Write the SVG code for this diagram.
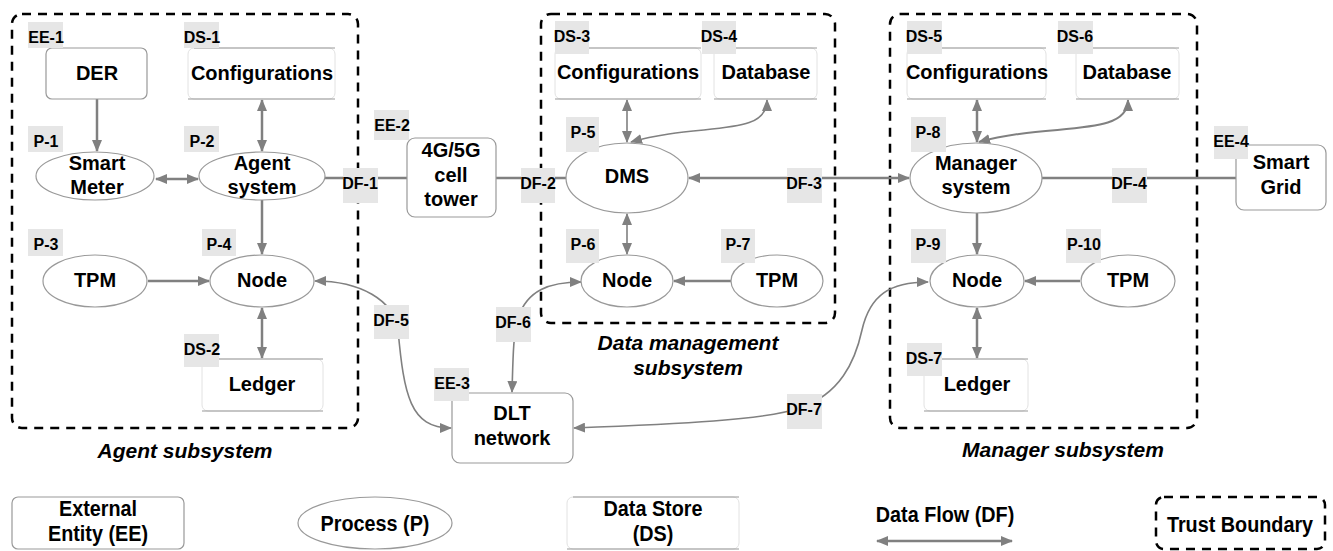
<svg xmlns="http://www.w3.org/2000/svg" width="1333" height="551" viewBox="0 0 1333 551">
  <style>
    .bnd { fill: none; stroke: #000; stroke-width: 2.5; stroke-dasharray: 9 7; }
    .ee { fill: #fff; stroke: #999; stroke-width: 1.2; }
    .pr { fill: #fff; stroke: #999; stroke-width: 1.2; }
    .dsb { fill: #fff; stroke: #e2e2e2; stroke-width: 1; }
    .dsl { stroke: #9a9a9a; stroke-width: 1.2; }
    .tag { fill: #e6e6e6; }
    .fl { fill: none; stroke: #808080; stroke-width: 2.5; }
    .thin { stroke-width: 1.6; }
    text { font-family: "Liberation Sans", Arial, sans-serif; font-weight: bold; fill: #000; text-anchor: middle; }
    .lbl { font-size: 20px; }
    .tt { font-size: 16px; }
    .sub { font-size: 21px; font-style: italic; }
    .leg { font-size: 22px; }
  </style>
  <defs>
    <marker id="ah" viewBox="0 0 12 10" refX="11" refY="5" markerWidth="12" markerHeight="10" markerUnits="userSpaceOnUse" orient="auto-start-reverse">
      <path d="M0,0 L12,5 L0,10 z" fill="#808080"/>
    </marker>
  </defs>

  <!-- trust boundaries -->
  <g id="boundaries">
    <rect class="bnd" x="12" y="14" width="346" height="414" rx="10"/>
    <rect class="bnd" x="541" y="14" width="294" height="309" rx="10"/>
    <rect class="bnd" x="890" y="14" width="307" height="414" rx="10"/>
    <text class="sub" x="185" y="458">Agent subsystem</text>
    <text class="sub" x="688" y="350">Data management</text>
    <text class="sub" x="688" y="375">subsystem</text>
    <text class="sub" x="1063" y="457">Manager subsystem</text>
  </g>

  <!-- data flows -->
  <g id="connectors">
    <path class="fl" d="M97,99 L97,151" marker-end="url(#ah)"/>
    <path class="fl" d="M262,100 L262,151" marker-start="url(#ah)" marker-end="url(#ah)"/>
    <path class="fl" d="M156,179 L198,179" marker-start="url(#ah)" marker-end="url(#ah)"/>
    <path class="fl" d="M262,200 L262,254" marker-end="url(#ah)"/>
    <path class="fl" d="M148,281 L209,281" marker-end="url(#ah)"/>
    <path class="fl" d="M262,308 L262,358" marker-start="url(#ah)" marker-end="url(#ah)"/>
    <path class="fl" d="M325,178 L407,178"/>
    <path class="fl" d="M496,178 L567,178"/>
    <path class="fl" d="M689,178 L909,178" marker-start="url(#ah)" marker-end="url(#ah)"/>
    <path class="fl thin" d="M627,100 L627,142" marker-start="url(#ah)" marker-end="url(#ah)"/>
    <path class="fl thin" d="M767,100 C767,138 700,122 631,142" marker-start="url(#ah)" marker-end="url(#ah)"/>
    <path class="fl thin" d="M627,214 L627,254" marker-start="url(#ah)" marker-end="url(#ah)"/>
    <path class="fl" d="M731,281 L674,281" marker-end="url(#ah)"/>
    <path class="fl" d="M977,100 L977,142" marker-start="url(#ah)" marker-end="url(#ah)"/>
    <path class="fl" d="M1128,100 C1128,138 1050,122 979,142" style="stroke-width:2" marker-start="url(#ah)" marker-end="url(#ah)"/>
    <path class="fl" d="M1042,178 L1236,178"/>
    <path class="fl" d="M977,213 L977,254" marker-end="url(#ah)"/>
    <path class="fl" d="M1080,281 L1025,281" marker-end="url(#ah)"/>
    <path class="fl" d="M977,308 L977,358" marker-start="url(#ah)" marker-end="url(#ah)"/>
    <path class="fl thin" d="M315,281 C360,281 394,300 398,330 C404,395 410,428 451,428" marker-start="url(#ah)" marker-end="url(#ah)"/>
    <path class="fl thin" d="M512,392 C513,360 513,335 518,318 C527,290 550,282 581,282" marker-start="url(#ah)" marker-end="url(#ah)"/>
    <path class="fl thin" d="M574,428 C680,424 765,420 800,408 C840,394 855,362 862,330 C870,295 890,282 928,282" marker-start="url(#ah)" marker-end="url(#ah)"/>
  </g>

  <!-- agent subsystem -->
  <g id="ee1">
    <rect class="ee" x="46" y="48" width="101" height="51" rx="6"/>
    <text class="lbl" x="97" y="80">DER</text>
    <rect class="tag" x="28" y="22" width="35" height="26"/>
    <text class="tt" x="46" y="43">EE-1</text>
  </g>
  <g id="ds1">
    <rect class="dsb" x="188" y="48" width="147" height="51" rx="6"/>
    <line class="dsl" x1="194" y1="48" x2="335" y2="48"/>
    <line class="dsl" x1="188" y1="99" x2="335" y2="99"/>
    <text class="lbl" x="262" y="80">Configurations</text>
    <rect class="tag" x="184" y="22" width="35" height="26"/>
    <text class="tt" x="202" y="43">DS-1</text>
  </g>
  <g id="p1">
    <ellipse class="pr" cx="95" cy="176" rx="59" ry="24"/>
    <text class="lbl" x="97" y="170">Smart</text>
    <text class="lbl" x="97" y="194">Meter</text>
    <rect class="tag" x="28" y="126" width="35" height="26"/>
    <text class="tt" x="46" y="147">P-1</text>
  </g>
  <g id="p2">
    <ellipse class="pr" cx="262" cy="176" rx="63" ry="24"/>
    <text class="lbl" x="262" y="170">Agent</text>
    <text class="lbl" x="262" y="194">system</text>
    <rect class="tag" x="184" y="126" width="35" height="26"/>
    <text class="tt" x="202" y="147">P-2</text>
  </g>
  <g id="p3">
    <ellipse class="pr" cx="95" cy="281" rx="52" ry="26"/>
    <text class="lbl" x="95" y="287">TPM</text>
    <rect class="tag" x="28" y="229" width="35" height="27"/>
    <text class="tt" x="46" y="250">P-3</text>
  </g>
  <g id="p4">
    <ellipse class="pr" cx="262" cy="281" rx="52" ry="26"/>
    <text class="lbl" x="262" y="287">Node</text>
    <rect class="tag" x="202" y="229" width="34" height="27"/>
    <text class="tt" x="219" y="250">P-4</text>
  </g>
  <g id="ds2">
    <rect class="dsb" x="202" y="359" width="121" height="52" rx="6"/>
    <line class="dsl" x1="208" y1="359" x2="323" y2="359"/>
    <line class="dsl" x1="202" y1="411" x2="323" y2="411"/>
    <text class="lbl" x="262" y="391">Ledger</text>
    <rect class="tag" x="184" y="334" width="35" height="33"/>
    <text class="tt" x="202" y="355">DS-2</text>
  </g>

  <!-- external entities between boundaries -->
  <g id="ee2">
    <rect class="ee" x="407" y="138" width="89" height="79" rx="8"/>
    <text class="lbl" x="451" y="157">4G/5G</text>
    <text class="lbl" x="451" y="182">cell</text>
    <text class="lbl" x="451" y="206">tower</text>
    <rect class="tag" x="374" y="110" width="35" height="30"/>
    <text class="tt" x="392" y="131">EE-2</text>
  </g>
  <g id="ee3">
    <rect class="ee" x="452" y="393" width="121" height="70" rx="8"/>
    <text class="lbl" x="512" y="420">DLT</text>
    <text class="lbl" x="512" y="445">network</text>
    <rect class="tag" x="434" y="368" width="35" height="33"/>
    <text class="tt" x="452" y="389">EE-3</text>
  </g>
  <g id="ee4">
    <rect class="ee" x="1236" y="145" width="90" height="65" rx="8"/>
    <text class="lbl" x="1281" y="169">Smart</text>
    <text class="lbl" x="1281" y="194">Grid</text>
    <rect class="tag" x="1214" y="126" width="34" height="33"/>
    <text class="tt" x="1231" y="147">EE-4</text>
  </g>

  <!-- data management subsystem -->
  <g id="ds3">
    <rect class="dsb" x="555" y="48" width="146" height="51" rx="6"/>
    <line class="dsl" x1="561" y1="48" x2="701" y2="48"/>
    <line class="dsl" x1="555" y1="99" x2="701" y2="99"/>
    <text class="lbl" x="628" y="79">Configurations</text>
    <rect class="tag" x="555" y="21" width="34" height="33"/>
    <text class="tt" x="572" y="42">DS-3</text>
  </g>
  <g id="ds4">
    <rect class="dsb" x="714" y="48" width="103" height="51" rx="6"/>
    <line class="dsl" x1="720" y1="48" x2="817" y2="48"/>
    <line class="dsl" x1="714" y1="99" x2="817" y2="99"/>
    <text class="lbl" x="766" y="79">Database</text>
    <rect class="tag" x="702" y="21" width="34" height="33"/>
    <text class="tt" x="719" y="42">DS-4</text>
  </g>
  <g id="p5">
    <ellipse class="pr" cx="627" cy="178" rx="61" ry="35"/>
    <text class="lbl" x="627" y="183">DMS</text>
    <rect class="tag" x="566" y="117" width="33" height="35"/>
    <text class="tt" x="583" y="138">P-5</text>
  </g>
  <g id="p6">
    <ellipse class="pr" cx="627" cy="281" rx="46" ry="26"/>
    <text class="lbl" x="627" y="287">Node</text>
    <rect class="tag" x="566" y="229" width="33" height="34"/>
    <text class="tt" x="583" y="250">P-6</text>
  </g>
  <g id="p7">
    <ellipse class="pr" cx="777" cy="281" rx="46" ry="26"/>
    <text class="lbl" x="777" y="287">TPM</text>
    <rect class="tag" x="721" y="229" width="34" height="34"/>
    <text class="tt" x="738" y="250">P-7</text>
  </g>

  <!-- manager subsystem -->
  <g id="ds5">
    <rect class="dsb" x="907" y="48" width="139" height="51" rx="6"/>
    <line class="dsl" x1="913" y1="48" x2="1046" y2="48"/>
    <line class="dsl" x1="907" y1="99" x2="1046" y2="99"/>
    <text class="lbl" x="977" y="79">Configurations</text>
    <rect class="tag" x="907" y="21" width="35" height="33"/>
    <text class="tt" x="924" y="42">DS-5</text>
  </g>
  <g id="ds6">
    <rect class="dsb" x="1076" y="48" width="103" height="51" rx="6"/>
    <line class="dsl" x1="1082" y1="48" x2="1179" y2="48"/>
    <line class="dsl" x1="1076" y1="99" x2="1179" y2="99"/>
    <text class="lbl" x="1127" y="79">Database</text>
    <rect class="tag" x="1058" y="21" width="35" height="33"/>
    <text class="tt" x="1075" y="42">DS-6</text>
  </g>
  <g id="p8">
    <ellipse class="pr" cx="976" cy="178" rx="66" ry="35"/>
    <text class="lbl" x="976" y="170">Manager</text>
    <text class="lbl" x="976" y="194">system</text>
    <rect class="tag" x="911" y="117" width="35" height="35"/>
    <text class="tt" x="928" y="138">P-8</text>
  </g>
  <g id="p9">
    <ellipse class="pr" cx="977" cy="281" rx="47" ry="26"/>
    <text class="lbl" x="977" y="287">Node</text>
    <rect class="tag" x="911" y="229" width="35" height="34"/>
    <text class="tt" x="928" y="250">P-9</text>
  </g>
  <g id="p10">
    <ellipse class="pr" cx="1128" cy="281" rx="47" ry="26"/>
    <text class="lbl" x="1128" y="287">TPM</text>
    <rect class="tag" x="1066" y="229" width="35" height="34"/>
    <text class="tt" x="1084" y="250">P-10</text>
  </g>
  <g id="ds7">
    <rect class="dsb" x="924" y="359" width="104" height="52" rx="6"/>
    <line class="dsl" x1="930" y1="359" x2="1028" y2="359"/>
    <line class="dsl" x1="924" y1="411" x2="1028" y2="411"/>
    <text class="lbl" x="977" y="391">Ledger</text>
    <rect class="tag" x="907" y="343" width="35" height="33"/>
    <text class="tt" x="924" y="364">DS-7</text>
  </g>

  <!-- data flow labels -->
  <g id="df-tags">
    <rect class="tag" x="343" y="168" width="35" height="35"/>
    <text class="tt" x="360" y="189">DF-1</text>
    <rect class="tag" x="521" y="168" width="34" height="35"/>
    <text class="tt" x="538" y="189">DF-2</text>
    <rect class="tag" x="787" y="168" width="35" height="35"/>
    <text class="tt" x="804" y="189">DF-3</text>
    <rect class="tag" x="1112" y="168" width="35" height="35"/>
    <text class="tt" x="1129" y="189">DF-4</text>
    <rect class="tag" x="374" y="305" width="35" height="34"/>
    <text class="tt" x="391" y="326">DF-5</text>
    <rect class="tag" x="496" y="307" width="35" height="35"/>
    <text class="tt" x="513" y="328">DF-6</text>
    <rect class="tag" x="787" y="394" width="35" height="35"/>
    <text class="tt" x="804" y="415">DF-7</text>
  </g>

  <!-- legend (condensed lettering via horizontal scaling) -->
  <g id="legend">
    <rect class="ee" x="12" y="497" width="172" height="52" rx="6"/>
    <text class="leg" transform="translate(98,516) scale(0.9,1)">External</text>
    <text class="leg" transform="translate(98,541) scale(0.9,1)">Entity (EE)</text>
    <ellipse class="pr" cx="375" cy="523" rx="77" ry="26"/>
    <text class="leg" transform="translate(375,531) scale(0.9,1)">Process (P)</text>
    <rect class="dsb" x="567" y="497" width="172" height="52" rx="6"/>
    <line class="dsl" x1="573" y1="497" x2="739" y2="497"/>
    <line class="dsl" x1="567" y1="549" x2="739" y2="549"/>
    <text class="leg" transform="translate(653,516) scale(0.9,1)">Data Store</text>
    <text class="leg" transform="translate(653,541) scale(0.9,1)">(DS)</text>
    <text class="leg" transform="translate(945,522) scale(0.9,1)">Data Flow (DF)</text>
    <path class="fl" d="M877,541 L1012,541" marker-start="url(#ah)" marker-end="url(#ah)"/>
    <rect class="bnd" x="1156" y="497" width="169" height="52" rx="8"/>
    <text class="leg" transform="translate(1240,532) scale(0.9,1)">Trust Boundary</text>
  </g>
</svg>
